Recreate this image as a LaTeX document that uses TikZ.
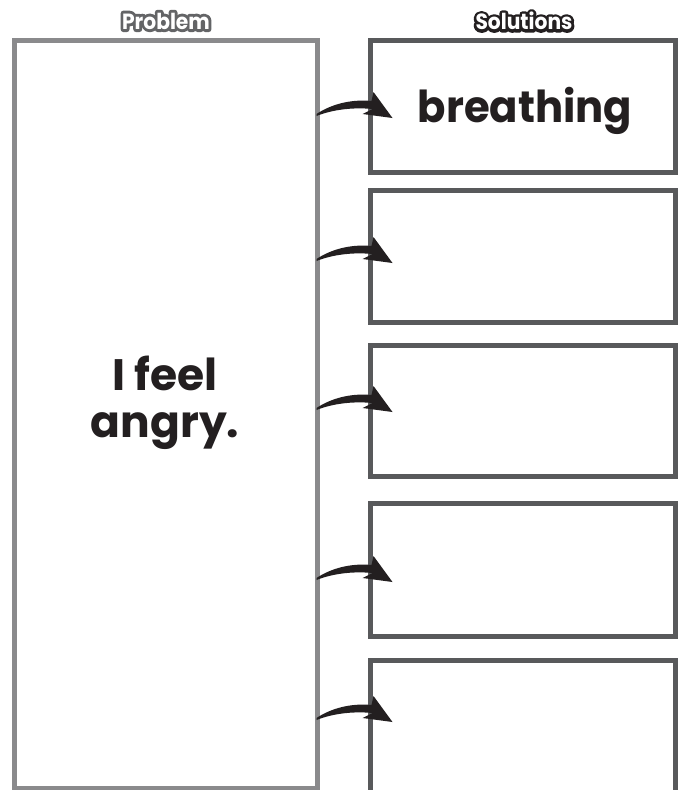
\documentclass[tikz,border=0pt]{standalone}
\usepackage{fontspec}
\setmainfont{Poppins}
\definecolor{probgray}{HTML}{8A8A8C}
\definecolor{solgray}{HTML}{58595B}
\definecolor{inkblack}{HTML}{231F20}
\definecolor{headgray}{HTML}{636466}
\newcommand{\outlinetext}[1]{\special{pdf:literal direct 1 j 1 J 6 w 2 Tr}#1\special{pdf:literal direct 0 Tr}}
\newcommand{\bubbletext}[4]{%
  \node[headfont,text=#3] at (#1) {\outlinetext{#2}};
  \node[headfont,text=white] (#4) at (#1) {#2};
}
\begin{document}
\begin{tikzpicture}[x=1pt,y=-1pt,
  probbox/.style={draw=probgray,line width=5pt,inner sep=0pt,outer sep=0pt},
  solbox/.style={draw=solgray,line width=5pt,inner sep=0pt,outer sep=0pt,minimum width=305pt},
  bigtext/.style={font=\fontsize{44}{47}\selectfont\bfseries,text=inkblack,align=center,inner sep=0pt},
  headfont/.style={font=\fontsize{22}{23}\selectfont\bfseries,inner sep=0pt,xscale=0.92},
  arrowfill/.style={fill=inkblack,draw=none},
  pics/brusharrow/.style={code={
    \fill[arrowfill] (0,0) .. controls (15,-10) and (35,-15) .. (55,-13)
      -- (57,-22) -- (76,4) -- (46,0) -- (56,-5)
      .. controls (35,-7) and (15,-4) .. (0,2) -- cycle;
  }}
]
\useasboundingbox (0,0) rectangle (680,790);
\fill[white] (0,0) rectangle (680,790);

% boxes
\node[probbox,minimum width=303pt,minimum height=748pt] (prob) at (166,414.5) {};
\node[solbox,minimum height=132pt] (s1) at (523,106.5) {};
\node[solbox,minimum height=132pt] (s2) at (523,256.5) {};
\node[solbox,minimum height=131pt] (s3) at (523,411) {};
\node[solbox,minimum height=133pt] (s4) at (523,570) {};
\node[solbox,minimum height=132pt] (s5) at (523,726.5) {};

% arrows from problem box to solution boxes
\coordinate (a1) at (prob.east |- s1.center);
\coordinate (a2) at (prob.east |- s2.center);
\coordinate (a3) at (prob.east |- s3.center);
\coordinate (a4) at (prob.east |- s4.center);
\coordinate (a5) at (prob.east |- s5.center);
\pic at ([shift={(-1,7.5)}]a1) {brusharrow};
\pic at ([shift={(-1,2.5)}]a2) {brusharrow};
\pic at ([shift={(-1,-3)}]a3) {brusharrow};
\pic at ([shift={(-1,8)}]a4) {brusharrow};
\pic at ([shift={(-1,-8.5)}]a5) {brusharrow};

% texts
\node[bigtext,xscale=0.95] (t1) at (525,111) {breathing};
\node[bigtext,xscale=1.0] (tp) at (165,403) {I feel\\angry.};

% headings (bubble letters)
\bubbletext{166,21}{Problem}{headgray}{hp}
\bubbletext{524,21}{Solutions}{inkblack}{hs}
\end{tikzpicture}
\end{document}
